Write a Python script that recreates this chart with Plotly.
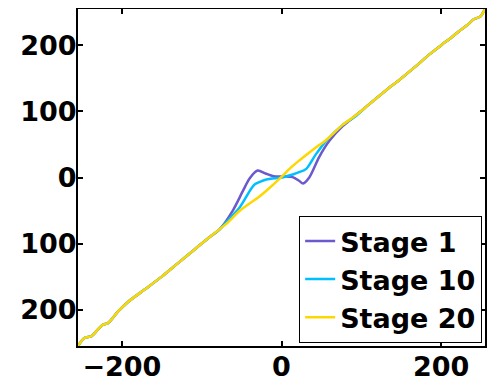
import plotly.graph_objects as go

# Shared outer segments (all stages nearly identical there)
low_x = [-255, -247, -238, -230, -224, -217, -205, -192, -172, -150, -130, -110, -90]
low_y = [-255, -243, -240, -230, -223, -220, -203, -188, -170, -150, -130, -110, -90]
high_x = [110, 130, 148, 170, 185, 201, 213, 222, 233, 241, 249, 255]
high_y = [111, 131, 148, 170, 186, 201, 212, 221, 231, 239.5, 243.5, 255]

stage1_mid_x = [-78, -61, -48, -40, -30, -20, -10, 2, 14, 22, 27, 35, 47, 60, 77, 92]
stage1_mid_y = [-79, -50, -19.5, -1.5, 10.5, 6, 2, 1.5, 0.5, -5, -9, 0.5, 30.5, 55.5, 78, 93]

stage10_mid_x = [-78, -65, -52, -38, -33, -28, -19, 2, 15, 22, 31, 43, 56, 77, 92]
stage10_mid_y = [-79, -62, -44.5, -17, -10, -7, -3, 0.5, 5, 8, 13, 35, 55.5, 80, 92]

stage20_mid_x = [-70, -52, -28, -19, 0, 10, 22, 35, 43, 52, 60, 77, 92]
stage20_mid_y = [-71, -50, -29, -20, 1, 13, 25.5, 38, 45.5, 53, 61, 80, 93]

names = ["Stage 1", "Stage 10", "Stage 20"]
colors = ["#6A5ACD", "#00BFFF", "#FFD700"]
series = [
    (low_x + stage1_mid_x + high_x, low_y + stage1_mid_y + high_y),
    (low_x + stage10_mid_x + high_x, low_y + stage10_mid_y + high_y),
    (low_x + stage20_mid_x + high_x, low_y + stage20_mid_y + high_y),
]

x_ticks = [-200, 0, 200]
x_ticktext = ["\u2212200", "0", "200"]
y_ticks = [-200, -100, 0, 100, 200]
y_ticktext = ["200", "100", "0", "100", "200"]

tick_font = dict(family="DejaVu Sans", size=27, color="black", weight="bold")
legend_font = dict(family="DejaVu Sans", size=27, color="black", weight="bold")

fig = go.Figure()
for name, col, (xs, ys) in zip(names, colors, series):
    fig.add_trace(go.Scatter(x=xs, y=ys, mode="lines", name=name,
                             line=dict(color=col, width=2.5, shape="spline", smoothing=0.8)))

axis_common = dict(showgrid=False, zeroline=False, showline=True, linecolor="black",
                   linewidth=2, mirror="ticks", ticks="inside", ticklen=5,
                   tickcolor="black", tickwidth=1.5, tickfont=tick_font, automargin=False)
fig.update_xaxes(range=[-255, 255], tickvals=x_ticks, ticktext=x_ticktext,
                 ticklabelstandoff=-4, **axis_common)
fig.update_yaxes(range=[-255, 255], tickvals=y_ticks, ticktext=y_ticktext,
                 ticklabelstandoff=-6, **axis_common)

# The page body has an 8px default margin, so the figure is sized/offset to compensate.
fig.update_layout(
    width=492, height=378,
    margin=dict(l=70, r=15, t=1, b=40, autoexpand=False),
    paper_bgcolor="white", plot_bgcolor="white",
    showlegend=True,
    legend=dict(x=0.993, y=0.009, xanchor="right", yanchor="bottom",
                bordercolor="black", borderwidth=1, bgcolor="white",
                font=legend_font, tracegroupgap=0, itemwidth=30),
)

fig.write_html("out.html")
